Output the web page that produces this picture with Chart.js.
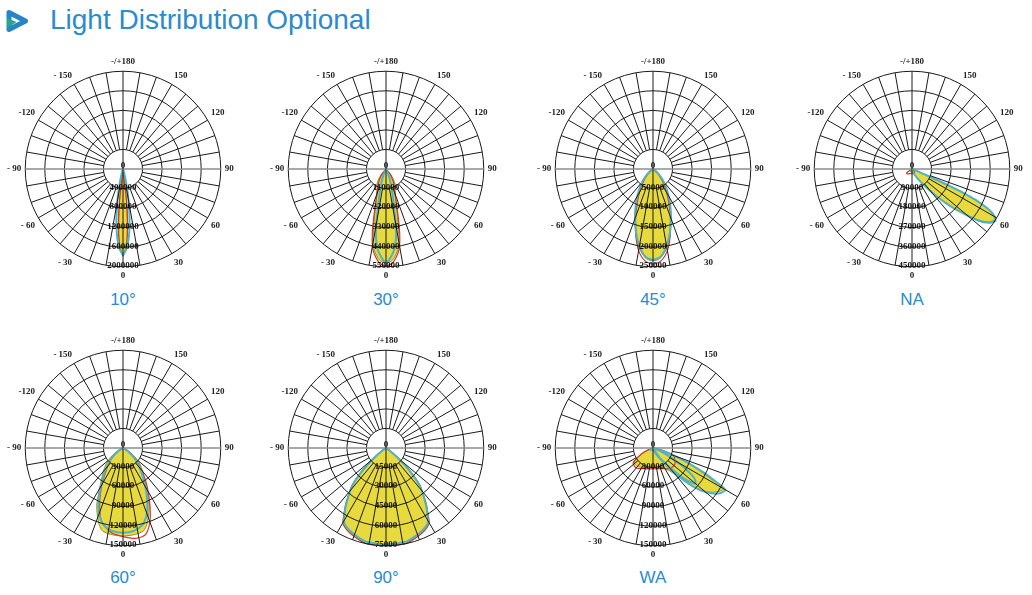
<!DOCTYPE html>
<html><head><meta charset="utf-8">
<script src="https://cdn.jsdelivr.net/npm/chart.js@4.4.0/dist/chart.umd.min.js"></script>
<style>
html,body{margin:0;padding:0;background:#fff;}
body{width:1032px;height:595px;position:relative;overflow:hidden;font-family:"Liberation Sans",Arial,sans-serif;}
#hdr{position:absolute;left:50px;top:6px;font-size:28px;line-height:28px;color:#2a8bcd;white-space:nowrap;}
#icon{position:absolute;left:4px;top:8px;}
.cw{position:absolute;width:232px;height:232px;}
.cap{position:absolute;width:120px;text-align:center;font-size:17px;line-height:18px;color:#2a8bcd;}
</style></head><body>
<svg id="icon" width="26" height="26" viewBox="0 0 26 26">
  <path d="M5 4.5 L21.5 13 L5 21.5 Z" fill="none" stroke="#2784c6" stroke-width="5" stroke-linejoin="round"/>
  <path d="M3 10 L12.5 14 L3 20.5 Z" fill="#2aa58c"/>
</svg>
<div id="hdr">Light Distribution Optional</div>
<div id="charts"></div>
<script>
// ---- angle tick labels (every 30°, clockwise from top) ----
const gammaTickLabels = ['-/+180','150','120','90','60','30','0','- 30','- 60','- 90','-120','- 150'];
// ---- chart captions and max intensities (cd) ----
const captions = ['10°','30°','45°','NA','60°','90°','WA'];
const maxValues = [2000000, 550000, 250000, 450000, 150000, 75000, 150000];

// ---- series: [gamma angle (deg), intensity] ----
const c10Yellow = [[-20,0],[-15,30000],[-10,120000],[-8,300000],[-6,700000],[-4,1300000],[-2,1650000],[0,1720000],[2,1650000],[4,1300000],[6,700000],[8,300000],[10,120000],[15,30000],[20,0]];
const c10Teal = [[-25,0],[-18,40000],[-15,150000],[-12,400000],[-9,800000],[-6,1250000],[-3,1600000],[0,1750000],[3,1600000],[6,1250000],[9,800000],[12,400000],[15,150000],[18,40000],[25,0]];
const c10Red = [[-10,0],[-6,800000],[-3,1500000],[0,1780000],[3,1500000],[6,800000],[10,0]];

const c30Yellow = [[-55,0],[-48,10000],[-42,35000],[-36,70000],[-31,99000],[-25,120000],[-20,150000],[-17,190000],[-14,260000],[-12,335000],[-10,420000],[-8,465000],[-4,515000],[0,530000],[4,515000],[8,465000],[10,420000],[12,335000],[14,260000],[17,190000],[20,150000],[25,120000],[31,99000],[36,70000],[42,35000],[48,10000],[55,0]];
const c30Teal = [[-30,0],[-24,30000],[-18,90000],[-14,160000],[-12,210000],[-10,320000],[-8,400000],[-5,470000],[0,528000],[5,470000],[8,400000],[10,320000],[12,210000],[14,160000],[18,90000],[24,30000],[30,0]];
const c30Red = [[-45,0],[-38,40000],[-30,80000],[-25,110000],[-20,150000],[-17,200000],[-14,290000],[-12,370000],[-10,440000],[-8,480000],[-4,530000],[0,545000],[4,530000],[8,480000],[10,440000],[12,370000],[14,290000],[17,200000],[20,150000],[25,110000],[30,80000],[38,40000],[45,0]];

const c45Yellow = [[-65,0],[-55,8000],[-45,25000],[-38,48000],[-30,78000],[-25,103000],[-21,125000],[-17,151000],[-14,178000],[-11,200000],[-5,228000],[0,235000],[5,228000],[11,200000],[14,178000],[17,151000],[21,125000],[25,103000],[30,78000],[38,48000],[45,25000],[55,8000],[65,0]];
const c45Teal = [[-65,0],[-55,8000],[-45,28000],[-38,50000],[-30,80000],[-25,105000],[-20,135000],[-15,168000],[-10,200000],[-5,225000],[0,232000],[5,225000],[10,200000],[15,168000],[20,135000],[25,105000],[30,80000],[38,50000],[45,28000],[55,8000],[65,0]];
const c45Red = [[-55,0],[-45,20000],[-35,50000],[-28,80000],[-22,115000],[-18,145000],[-14,180000],[-10,212000],[-5,236000],[0,243000],[5,236000],[10,212000],[14,180000],[18,145000],[22,115000],[28,80000],[35,50000],[45,20000],[55,0]];

const cNAYellow = [[-60,0],[-40,10000],[0,12000],[20,18000],[25,35000],[30,50000],[36,84000],[42,160000],[47,258000],[52,375000],[55,425000],[58,446000],[60,435000],[62,400000],[63,370000],[64,320000],[65,250000],[66,110000],[67,40000],[70,10000],[80,0]];
const cNATeal = [[-50,0],[-30,12000],[0,15000],[20,22000],[30,50000],[36,90000],[42,170000],[47,270000],[52,385000],[55,432000],[58,452000],[60,440000],[62,405000],[64,330000],[65,270000],[66,150000],[67,60000],[70,15000],[80,0]];
const cNARed = [[-70,0],[-55,30000],[-45,32000],[-30,25000],[-10,22000],[10,22000],[30,20000],[45,15000],[60,0]];

const c60Yellow = [[-75,0],[-65,6000],[-55,20000],[-47,35000],[-40,47000],[-32,65000],[-25,95000],[-21,110000],[-17,124000],[-14,131000],[-8,134000],[0,135000],[8,134000],[14,131000],[17,124000],[21,110000],[25,95000],[32,65000],[40,47000],[47,35000],[55,20000],[65,6000],[75,0]];
const c60Teal = [[-68,0],[-58,8000],[-48,24000],[-40,40000],[-33,58000],[-27,80000],[-22,100000],[-18,113000],[-14,122000],[-8,128000],[0,130000],[8,128000],[14,122000],[18,113000],[22,100000],[27,80000],[33,58000],[40,40000],[48,24000],[58,8000],[68,0]];
const c60Red = [[-70,0],[-55,14000],[-45,28000],[-35,48000],[-28,72000],[-22,96000],[-16,118000],[-8,131000],[0,136000],[8,140000],[14,138000],[18,128000],[22,112000],[28,85000],[35,60000],[45,33000],[55,15000],[70,0]];

const c90Yellow = [[-70,0],[-60,2000],[-52,8000],[-48,18000],[-46,26000],[-43,37600],[-39,45000],[-36,52800],[-32,61000],[-29,67500],[-24,70000],[-19,72400],[-12,74800],[-6,75000],[0,75000],[6,75000],[12,74800],[19,72400],[24,70000],[29,67500],[32,61000],[36,52800],[39,45000],[43,37600],[46,26000],[48,18000],[52,8000],[60,2000],[70,0]];
const c90Teal = [[-65,0],[-56,3000],[-50,12000],[-46,25000],[-42,38000],[-37,49000],[-33,58000],[-29,66000],[-24,69000],[-18,71500],[-12,73500],[0,74000],[12,73500],[18,71500],[24,69000],[29,66000],[33,58000],[37,49000],[42,38000],[46,25000],[50,12000],[56,3000],[65,0]];
const c90Red = [[-65,0],[-56,4000],[-50,14000],[-46,27000],[-42,39000],[-38,47000],[-34,56000],[-30,66000],[-25,70000],[-19,72500],[-12,74800],[0,75000],[12,74800],[19,72500],[25,70000],[30,66000],[34,56000],[38,47000],[42,39000],[46,27000],[50,14000],[56,4000],[65,0]];

const cWAYellow = [[-75,0],[-63,17000],[-55,34000],[-50,37000],[-40,37000],[-25,33000],[0,30000],[25,33000],[35,42000],[41,56000],[45,75000],[48,97500],[52,110000],[56,120000],[60,125000],[62,100000],[65,72000],[68,50000],[70,32000],[76,14000],[85,0]];
const cWATeal = [[-70,0],[-60,5000],[0,3000],[30,15000],[38,35000],[42,60000],[46,85000],[50,105000],[55,122000],[60,128000],[62,108000],[64,88000],[66,68000],[68,50000],[70,35000],[75,10000],[85,0]];
const cWATealInner = [[20,0],[35,20000],[42,45000],[46,70000],[50,85000],[54,78000],[58,55000],[62,30000],[68,10000],[75,0]];
const cWARed = [[-80,0],[-70,8000],[-63,19500],[-55,36000],[-51,38900],[-40,40000],[-25,35000],[0,32000],[25,35000],[40,41000],[54,41700],[62,38000],[70,33300],[76,15000],[85,0]];

const seriesPerChart = [
  [c10Teal, c10Red, c10Yellow],
  [c30Teal, c30Red, c30Yellow],
  [c45Teal, c45Red, c45Yellow],
  [cNATeal, cNARed, cNAYellow],
  [c60Teal, c60Red, c60Yellow],
  [c90Teal, c90Red, c90Yellow],
  [cWATeal, cWATealInner, cWARed, cWAYellow]
];
const seriesKinds = [
  ['teal','red','yellow'],['teal','red','yellow'],['teal','red','yellow'],['teal','red','yellow'],
  ['teal','red','yellow'],['teal','red','yellow'],['teal','teal','red','yellow']
];

// ---- layout (chart centres) ----
const centres = [[123,168],[386,168],[653,168],[912,168],[123,447],[386,447],[653,447]];
const CANVAS = 232, OFFX = 118, OFFY = 114;
const captionY = [291, 291, 291, 291, 569, 569, 569];

const styles = {
  teal:   {borderColor:'#4fb2c6', borderWidth:2, backgroundColor:'rgba(0,0,0,0)', fill:false},
  red:    {borderColor:'#d8352a', borderWidth:1.2, backgroundColor:'rgba(0,0,0,0)', fill:false},
  yellow: {borderColor:'#8f8f2e', borderWidth:1, backgroundColor:'#e6da3e', fill:'origin'}
};

const labels360 = Array.from({length:360}, (_, i) => i); // index i => gamma = 180 - i
function gammaToIndex(g){ return ((180 - g) % 360 + 360) % 360; }
function toRadar(pairs){
  const d = new Array(360).fill(null);
  pairs.forEach(([g, v]) => { d[gammaToIndex(g)] = v; });
  return d;
}

const ringLabelPlugin = {
  id: 'ringLabels',
  afterDraw(chart){
    const s = chart.scales.r, c = chart.ctx;
    c.save();
    c.font = 'bold 9px "Liberation Serif", serif';
    c.fillStyle = '#111';
    c.textAlign = 'center';
    c.textBaseline = 'middle';
    s.ticks.forEach(t => {
      const p = s.getPointPositionForValue(gammaToIndex(0), t.value);
      c.fillText(t.label, p.x, p.y - (t.value === 0 ? 3 : 1));
    });
    c.restore();
  }
};

const host = document.getElementById('charts');
captions.forEach((cap, k) => {
  const [cx, cy] = centres[k];
  const wrap = document.createElement('div');
  wrap.className = 'cw';
  wrap.style.left = (cx - OFFX) + 'px';
  wrap.style.top = (cy - OFFY) + 'px';
  const cv = document.createElement('canvas');
  cv.width = CANVAS; cv.height = CANVAS;
  wrap.appendChild(cv);
  host.appendChild(wrap);
  const capDiv = document.createElement('div');
  capDiv.className = 'cap';
  capDiv.textContent = cap;
  capDiv.style.left = (cx - 60) + 'px';
  capDiv.style.top = captionY[k] + 'px';
  host.appendChild(capDiv);

  const M = maxValues[k];
  const datasets = seriesPerChart[k].map((pairs, j) => Object.assign({
    data: toRadar(pairs), spanGaps: true, pointRadius: 0, pointHoverRadius: 0, tension: 0.25
  }, styles[seriesKinds[k][j]]));

  new Chart(cv, {
    type: 'radar',
    data: { labels: labels360, datasets },
    plugins: [ringLabelPlugin],
    options: {
      responsive: false, animation: false,
      layout: { padding: 0 },
      plugins: { legend: {display:false}, tooltip: {enabled:false} },
      elements: { line: { borderJoinStyle: 'round' } },
      scales: {
        r: {
          min: 0, max: M, startAngle: 0,
          ticks: { display: false, stepSize: M / 5, callback: v => String(v), backdropPadding: 0 },
          grid: { circular: true, color: '#1a1a1a', lineWidth: 1, z: 1 },
          angleLines: {
            display: true,
            color: ctx => (ctx.index === 90 || ctx.index === 270) ? '#8c8c8c' : '#1a1a1a',
            lineWidth: ctx => ctx.index % 10 !== 0 ? 0 : ((ctx.index === 90 || ctx.index === 270) ? 1.6 : 1),
            borderDash: ctx => {
              if (ctx.index % 90 === 0) return [];
              const s = ctx.chart.scales.r;
              const r1 = s.getDistanceFromCenterForValue(M / 5);
              return [0, r1, 2000, 0];
            }
          },
          pointLabels: {
            display: true, padding: 4, color: '#222',
            font: { family: '"Liberation Serif", serif', size: 9, weight: 'bold' },
            callback: (v, i) => i % 30 === 0 ? gammaTickLabels[i / 30] : ''
          }
        }
      }
    }
  });
});
</script>
</body></html>
